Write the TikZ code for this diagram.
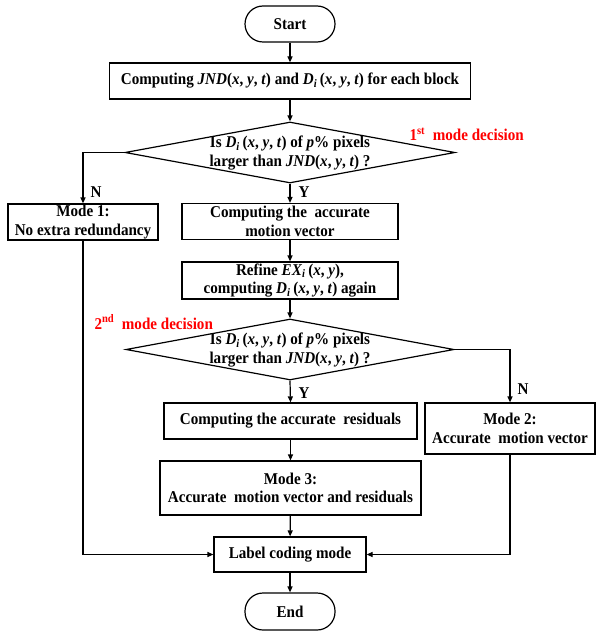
\documentclass[tikz,border=0pt]{standalone}
\usepackage{fontspec}
\setmainfont{Liberation Serif}[FakeStretch=0.915]
\usetikzlibrary{arrows.meta,shapes.geometric}
\newcommand{\xyt}{(\textit{x}, \textit{y}, \textit{t})}
\newcommand{\Dsub}{\textit{D}\textsubscript{\textit{i}}}
\newcommand{\EXsub}{\textit{EX}\textsubscript{\textit{i}}}
\begin{document}
\begin{tikzpicture}[x=1pt,y=-1pt,
        every node/.style={font=\fontsize{16.5}{18.5}\selectfont\bfseries},
        box/.style={draw,line width=1.2pt,align=center,inner sep=0pt,minimum height=36},
        term/.style={box,rounded corners=18pt,minimum width=90},
        decision/.style={draw,diamond,line width=1.2pt,inner sep=0pt,minimum width=330,minimum height=61},
        conn/.style={line width=1.2pt,-{Triangle[length=6pt,width=5pt]}},
        note/.style={text=red}]
        \useasboundingbox (0,0) rectangle (595,631);

        \node[term] (start) at (290,24) {Start};
        \node[box,minimum width=361] (comp) at (290,81) {Computing \textit{JND}\xyt\ and \Dsub\,\xyt\ for each block};
        \node[decision] (dec1) at (290,152.5) {};
        \node[align=center] (dec1txt) at (290,153) {Is \Dsub\,\xyt\ of \textit{p}\% pixels\\larger than \textit{JND}\xyt\ ?};
        \node[box,minimum width=150] (mode1) at (83,222) {Mode 1:\\No extra redundancy};
        \node[box,minimum width=216] (mv) at (290,221.5) {Computing the~ accurate\\motion vector};
        \node[box,minimum width=216,minimum height=37] (refine) at (290,280.5) {Refine \EXsub\,(\textit{x}, \textit{y}),\\computing \Dsub\,\xyt\ again};
        \node[decision,minimum width=328] (dec2) at (290,349.5) {};
        \node[align=center] (dec2txt) at (290,350) {Is \Dsub\,\xyt\ of \textit{p}\% pixels\\larger than \textit{JND}\xyt\ ?};
        \node[box,minimum width=253] (resid) at (290.5,421) {Computing the accurate~ residuals};
        \node[box,minimum width=170,minimum height=51] (mode2) at (510,428.5) {Mode 2:\\Accurate~ motion vector};
        \node[box,minimum width=261,minimum height=54] (mode3) at (290.5,488) {Mode 3:\\Accurate~ motion vector and residuals};
        \node[box,minimum width=152,minimum height=35] (lab) at (290,554.5) {Label coding mode};
        \node[term,minimum height=37] (end) at (290,611.5) {End};

        \node[note,anchor=west] (note1) at (406,134) {1\textsuperscript{st}~ mode decision};
        \node[note,anchor=west] (note2) at (91,322) {2\textsuperscript{nd}~ mode decision};
        \node (yes1) at (304,192) {Y};
        \node (no1) at (96,192) {N};
        \node (yes2) at (304,393) {Y};
        \node (no2) at (523,389) {N};

        \draw[conn] (start) -- (comp);
        \draw[conn] (comp) -- (dec1);
        \draw[conn] (dec1.west) -| (mode1.north);
        \draw[conn] (dec1.south) -- (mv.north);
        \draw[conn] (mv) -- (refine);
        \draw[conn] (refine) -- (dec2);
        \draw[conn] (dec2.south) -- (resid.north);
        \draw[conn] (dec2.east) -| (mode2.north);
        \draw[conn] (resid) -- (mode3);
        \draw[conn] (mode3) -- (lab);
        \draw[conn] (mode1.south) |- (lab.west);
        \draw[conn] (mode2.south) |- (lab.east);
        \draw[conn] (lab) -- (end);
    \end{tikzpicture}
\end{document}
